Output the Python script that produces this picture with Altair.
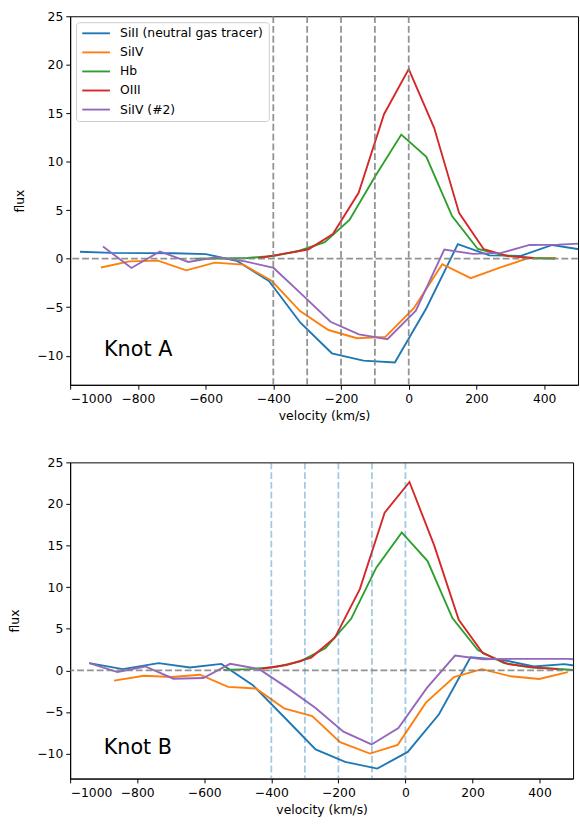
import altair as alt
import pandas as pd

series = ["SiII (neutral gas tracer)", "SiIV", "Hb", "OIII", "SiIV (#2)"]
colors = ["#1f77b4", "#ff7f0e", "#2ca02c", "#d62728", "#9467bd"]

# ---------------- Knot A ----------------
a_siII_v = [-971, -878, -785, -692, -599, -506, -413, -320, -227, -134, -41, 52, 145, 238, 331, 424, 517]
a_siII_f = [0.72, 0.6, 0.58, 0.56, 0.48, -0.25, -2.3, -6.6, -9.75, -10.5, -10.7, -5.1, 1.5, 0.35, 0.3, 1.42, 0.9]

a_siIV_v = [-909, -825, -741, -657, -573, -489, -405, -321, -237, -153, -69, 15, 99, 183, 267, 351, 435]
a_siIV_f = [-0.9, -0.27, -0.2, -1.2, -0.4, -0.6, -2.27, -5.4, -7.35, -8.2, -8.06, -5.1, -0.57, -2.0, -0.95, 0.05, 0.07]

a_hb_v = [-630, -553, -477, -400, -325, -248, -175, -99, -22, 52, 128, 204, 282, 359, 432]
a_hb_f = [0.0, 0.02, 0.08, 0.28, 0.8, 1.7, 4.0, 8.5, 12.8, 10.5, 4.4, 1.0, 0.35, 0.07, 0.0]

a_oiii_v = [-445, -371, -297, -224, -148, -73, 0, 75, 149, 221, 294, 370]
a_oiii_f = [0.05, 0.5, 0.95, 2.55, 6.8, 14.9, 19.55, 13.5, 4.7, 1.0, 0.27, 0.07]

a_siIV2_v = [-903, -819, -735, -651, -567, -483, -399, -315, -231, -147, -63, 21, 105, 189, 273, 357, 441, 525]
a_siIV2_f = [1.26, -0.95, 0.75, -0.33, 0.17, -0.27, -0.95, -3.7, -6.5, -7.8, -8.3, -5.35, 0.95, 0.5, 0.6, 1.42, 1.46, 1.6]

# ---------------- Knot B ----------------
b_siII_v = [-943, -843, -736, -643, -549, -455, -362, -268, -180, -84, 7, 100, 194, 290, 383, 474, 568]
b_siII_f = [0.87, 0.15, 0.87, 0.35, 0.78, -1.78, -5.6, -9.5, -11.0, -11.8, -9.8, -5.27, 1.58, 1.26, 0.47, 0.75, 0.2]

b_siIV_v = [-869, -780, -697, -613, -529, -446, -362, -278, -195, -106, -23, 61, 145, 228, 314, 399, 484]
b_siIV_f = [-1.23, -0.64, -0.8, -0.52, -1.98, -2.18, -4.56, -5.5, -8.63, -10.0, -8.95, -3.88, -0.8, 0.15, -0.71, -1.03, -0.2]

b_hb_v = [-543, -466, -390, -315, -239, -162, -87, -11, 66, 140, 216, 294, 371, 445, 520]
b_hb_f = [0.05, 0.15, 0.4, 1.05, 2.65, 6.2, 12.35, 16.58, 13.14, 6.29, 2.45, 0.87, 0.36, 0.2, 0.0]

b_oiii_v = [-429, -355, -281, -210, -136, -62, 12, 86, 159, 231, 307, 381, 455]
b_oiii_f = [0.2, 0.65, 1.54, 3.95, 9.77, 18.96, 22.64, 15.0, 6.09, 2.05, 0.75, 0.36, 0.15]

b_siIV2_v = [-943, -859, -776, -692, -603, -523, -436, -352, -269, -185, -101, -21, 64, 148, 231, 315, 400, 484, 568]
b_siIV2_f = [0.87, -0.2, 0.47, -1.0, -0.91, 0.79, 0.15, -2.1, -4.5, -7.37, -8.9, -6.93, -2.1, 1.78, 1.34, 1.38, 1.38, 1.38, 1.2]

vlines = [-400, -300, -200, -100, 0]
hline = [0]
x_ticks = [-1000, -800, -600, -400, -200, 0, 200, 400]
y_ticks = [-10, -5, 0, 5, 10, 15, 20, 25]
x_domain = [-1000, 500]
y_domain = [-13, 25]
labels_knot = ["Knot A", "Knot B"]
label_pos = [-900, -10]

FONT = "DejaVu Sans"
FS = 12.5
MINUS = "datum.value < 0 ? '\u2212' + format(abs(datum.value), 'd') : format(datum.value, 'd')"


def make_df(pairs):
    rows = []
    for k, (vs, fs) in enumerate(pairs):
        for v, f in zip(vs, fs):
            rows.append({"series": series[k], "k": k, "v": v, "f": f})
    return pd.DataFrame(rows)


dfA = make_df([(a_siII_v, a_siII_f), (a_siIV_v, a_siIV_f), (a_hb_v, a_hb_f),
               (a_oiii_v, a_oiii_f), (a_siIV2_v, a_siIV2_f)])
dfB = make_df([(b_siII_v, b_siII_f), (b_siIV_v, b_siIV_f), (b_hb_v, b_hb_f),
               (b_oiii_v, b_oiii_f), (b_siIV2_v, b_siIV2_f)])


def panel(df, label, vcolor, vopacity, width, height, show_legend, tpad):
    xs = alt.Scale(domain=x_domain, nice=False, zero=False)
    ys = alt.Scale(domain=y_domain, nice=False, zero=False)
    xax = alt.Axis(values=x_ticks, labelExpr=MINUS, title="velocity (km/s)", labelPadding=4, titlePadding=4)
    yax = alt.Axis(values=y_ticks, labelExpr=MINUS, title="flux", labelPadding=3, titlePadding=tpad)
    if show_legend:
        leg = alt.Legend(title=None, orient="top-left", offset=6, symbolType="M-1,0H4.6",
                         symbolSize=100, symbolStrokeWidth=1.9, labelFontSize=FS,
                         labelFont=FONT, labelColor="black", rowPadding=6.3,
                         padding=5, labelOffset=27, fillColor="white",
                         strokeColor="#cccccc", cornerRadius=3, labelLimit=300)
    else:
        leg = None
    lines = alt.Chart(df).mark_line(strokeWidth=1.9, clip=True).encode(
        x=alt.X("v:Q", scale=xs, axis=xax),
        y=alt.Y("f:Q", scale=ys, axis=yax),
        color=alt.Color("series:N", scale=alt.Scale(domain=series, range=colors),
                        sort=series, legend=leg),
        detail="k:N",
    )
    vr = alt.Chart(pd.DataFrame({"x": vlines})).mark_rule(
        strokeDash=[6.9, 3], strokeWidth=1.8, color=vcolor, opacity=vopacity
    ).encode(x=alt.X("x:Q", scale=xs))
    hr = alt.Chart(pd.DataFrame({"y": hline})).mark_rule(
        strokeDash=[6.9, 3], strokeWidth=1.8, color="#808080", opacity=0.85
    ).encode(y=alt.Y("y:Q", scale=ys))
    txt = alt.Chart(pd.DataFrame({"v": [label_pos[0]], "f": [label_pos[1]], "t": [label]})).mark_text(
        align="left", baseline="alphabetic", fontSize=21, font=FONT, color="black"
    ).encode(x=alt.X("v:Q", scale=xs), y=alt.Y("f:Q", scale=ys), text="t:N")
    return alt.layer(lines, vr, hr, txt).properties(width=width, height=height)


top = panel(dfA, labels_knot[0], "#808080", 0.85, 514, 373, True, 10)
bottom = panel(dfB, labels_knot[1], "#1f77b4", 0.4, 509, 320, False, 15)

chart = alt.vconcat(top, bottom, spacing=33.5, bounds="full").resolve_scale(color="independent").resolve_legend(
    color="independent"
).properties(
    padding={"left": 8, "top": 4.5, "right": 0, "bottom": 0}
).configure_view(
    stroke="black", strokeWidth=1
).configure_axis(
    grid=False, domainColor="black", tickColor="black", labelColor="black", titleColor="black",
    labelFont=FONT, titleFont=FONT, labelFontSize=FS, titleFontSize=FS,
    titleFontWeight="normal", tickSize=4.4, domainWidth=1, tickWidth=1
)

chart.save("out.html", embed_options={"renderer": "svg", "actions": False})
